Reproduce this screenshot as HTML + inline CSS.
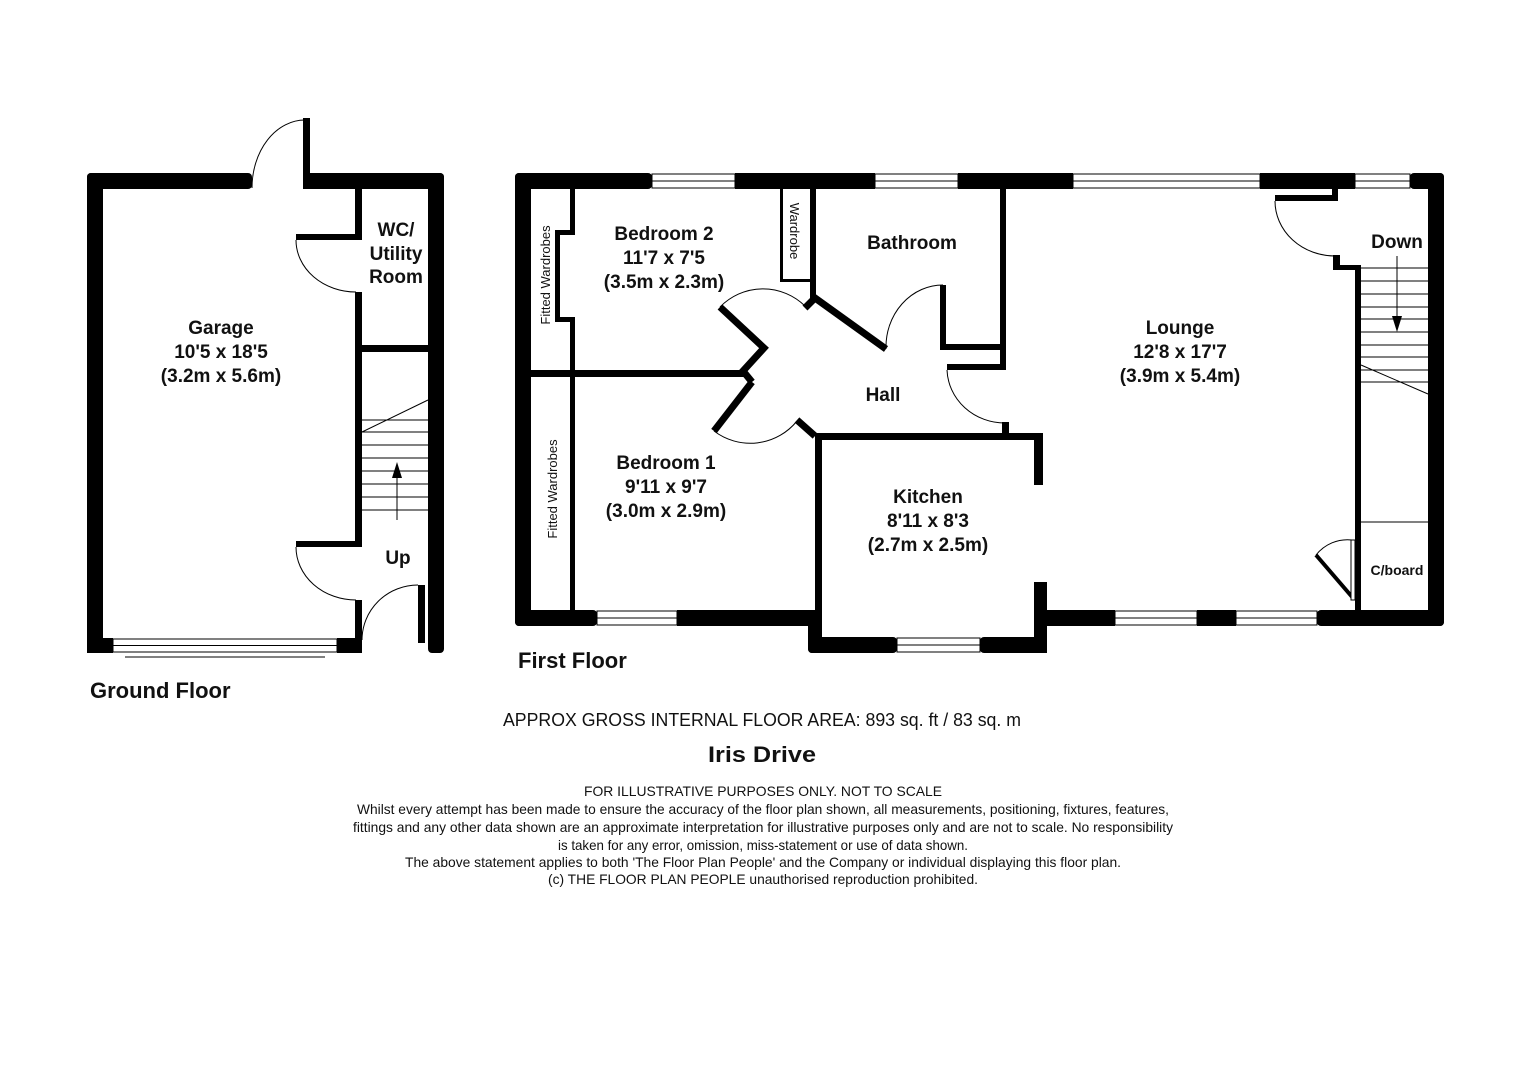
<!DOCTYPE html>
<html><head><meta charset="utf-8"><style>
html,body{margin:0;padding:0;background:#fff}
svg{display:block}
text{font-family:"Liberation Sans",sans-serif;fill:#111}
</style></head><body>
<svg width="1526" height="1080" viewBox="0 0 1526 1080" xmlns="http://www.w3.org/2000/svg">
<rect width="1526" height="1080" fill="#fff"/>
<g fill="#000">
<!-- Ground floor -->
<rect x="87" y="173" width="165" height="16" rx="4"/>
<rect x="303" y="173" width="141" height="16" rx="4"/>
<rect x="303" y="118" width="7" height="71"/>
<rect x="87" y="173" width="16" height="480" rx="4"/>
<rect x="428" y="173" width="16" height="480" rx="4"/>
<rect x="87" y="638" width="26" height="15"/>
<rect x="337" y="638" width="25" height="15"/>
<rect x="418" y="585" width="7" height="58"/>
<rect x="355" y="188" width="7" height="52"/>
<rect x="296" y="234" width="66" height="6"/>
<rect x="355" y="292" width="7" height="255"/>
<rect x="296" y="541" width="66" height="6"/>
<rect x="355" y="600" width="7" height="53"/>
<rect x="362" y="345" width="66" height="7"/>
</g>
<g fill="none" stroke="#000" stroke-width="1">
<path d="M252,188 A53,68 0 0 1 305,120"/>
<path d="M296,240 A60,52 0 0 0 356,292"/>
<path d="M296,547 A60,53 0 0 0 356,600"/>
<path d="M362,640 A56,55 0 0 1 418,585"/>
<rect x="113" y="639" width="224" height="13"/>
<line x1="113" y1="645.5" x2="337" y2="645.5"/>
<line x1="125" y1="657" x2="325" y2="657"/>
<path d="M362,432 L428,400"/>
<path d="M362,420H428M362,432H428M362,445H428M362,458H428M362,471H428M362,484H428M362,497H428M362,510H428"/>
<line x1="397" y1="520" x2="397" y2="475"/>
</g>
<polygon points="397,462 392,478 402,478" fill="#000"/>

<!-- First floor walls -->
<g fill="#000">
<rect x="515" y="173" width="137" height="16" rx="4"/>
<rect x="735" y="173" width="140" height="16"/>
<rect x="958" y="173" width="115" height="16"/>
<rect x="1260" y="173" width="95" height="16"/>
<rect x="1410" y="173" width="34" height="16" rx="4"/>
<rect x="515" y="173" width="16" height="453" rx="4"/>
<rect x="1428" y="173" width="16" height="453" rx="4"/>
<rect x="515" y="610" width="82" height="16" rx="4"/>
<rect x="677" y="610" width="145" height="16"/>
<rect x="808" y="610" width="14" height="43" rx="4"/>
<rect x="808" y="637" width="89" height="16" rx="4"/>
<rect x="980" y="637" width="67" height="16" rx="4"/>
<rect x="1034" y="582" width="13" height="71"/>
<rect x="1034" y="610" width="81" height="16"/>
<rect x="1197" y="610" width="39" height="16"/>
<rect x="1317" y="610" width="127" height="16" rx="4"/>
<!-- wardrobes -->
<rect x="570" y="189" width="5" height="44"/>
<rect x="555" y="230" width="20" height="5"/>
<rect x="555" y="230" width="5" height="92"/>
<rect x="555" y="317" width="20" height="5"/>
<rect x="570" y="317" width="5" height="293"/>
<rect x="531" y="370" width="214" height="7"/>
<rect x="780" y="189" width="3" height="93"/>
<rect x="780" y="279" width="33" height="3"/>
<rect x="810" y="189" width="6" height="110"/>
<!-- bath -->
<rect x="940" y="285" width="6" height="65"/>
<rect x="940" y="344" width="66" height="6"/>
<rect x="1000" y="189" width="6" height="175"/>
<rect x="947" y="364" width="59" height="6"/>
<rect x="1002" y="422" width="7" height="15"/>
<!-- kitchen -->
<rect x="815" y="433" width="228" height="7"/>
<rect x="815" y="433" width="7" height="200"/>
<rect x="1034" y="433" width="9" height="52"/>
<!-- lounge/stairs -->
<rect x="1275" y="195" width="62" height="6"/>
<rect x="1332" y="189" width="6" height="12"/>
<rect x="1333" y="255" width="7" height="15"/>
<rect x="1333" y="265" width="28" height="5"/>
<rect x="1355" y="265" width="6" height="345"/>
</g>
<g fill="none" stroke="#000" stroke-width="7" stroke-linecap="butt">
<path d="M720,307 L764,348 L743,371 L752,382"/>
<path d="M752,382 L714,431"/>
<path d="M797,420 L815,436"/>
<path d="M805,308 L815,298 L886,349"/>
</g>
<g fill="none" stroke="#000" stroke-width="1">
<path d="M720,307 A60,60 0 0 1 805,306"/>
<path d="M714,431 A60,60 0 0 0 797,421"/>
<path d="M886,349 A57,62 0 0 1 943,285"/>
<path d="M947,370 A58,55 0 0 0 1005,423"/>
<path d="M1275,201 A60,55 0 0 0 1335,256"/>
<path d="M1316,555 A40,40 0 0 1 1352,540"/>
</g>
<line x1="1316" y1="555" x2="1353" y2="598" stroke="#000" stroke-width="4"/>
<rect x="1351" y="540" width="4" height="60" fill="#fff" stroke="#000" stroke-width="1"/>
<!-- windows -->
<g fill="#fff" stroke="#000" stroke-width="1">
<rect x="652" y="174" width="83" height="14"/>
<rect x="875" y="174" width="83" height="14"/>
<rect x="1073" y="174" width="187" height="14"/>
<rect x="1355" y="174" width="55" height="14"/>
<rect x="597" y="611" width="80" height="14"/>
<rect x="897" y="638" width="83" height="14"/>
<rect x="1115" y="611" width="82" height="14"/>
<rect x="1236" y="611" width="81" height="14"/>
</g>
<g stroke="#000" stroke-width="1">
<line x1="652" y1="181" x2="735" y2="181"/>
<line x1="875" y1="181" x2="958" y2="181"/>
<line x1="1073" y1="181" x2="1260" y2="181"/>
<line x1="1355" y1="181" x2="1410" y2="181"/>
<line x1="597" y1="618" x2="677" y2="618"/>
<line x1="897" y1="645" x2="980" y2="645"/>
<line x1="1115" y1="618" x2="1197" y2="618"/>
<line x1="1236" y1="618" x2="1317" y2="618"/>
<path d="M1361,268H1428M1361,281H1428M1361,294H1428M1361,307H1428M1361,319H1428M1361,332H1428M1361,345H1428M1361,357H1428M1361,370H1428M1361,382H1428"/>
<line x1="1361" y1="365" x2="1428" y2="394"/>
<line x1="1361" y1="522" x2="1428" y2="522"/>
<line x1="1397" y1="256" x2="1397" y2="318"/>
</g>
<polygon points="1397,332 1392,316 1402,316" fill="#000"/>

<!-- labels -->
<g font-size="19" font-weight="bold" text-anchor="middle">
<text x="221" y="334">Garage</text>
<text x="221" y="358">10'5 x 18'5</text>
<text x="221" y="382">(3.2m x 5.6m)</text>
<text x="396" y="236">WC/</text>
<text x="396" y="260">Utility</text>
<text x="396" y="283">Room</text>
<text x="398" y="564">Up</text>
<text x="664" y="240">Bedroom 2</text>
<text x="664" y="264">11'7 x 7'5</text>
<text x="664" y="288">(3.5m x 2.3m)</text>
<text x="912" y="249">Bathroom</text>
<text x="883" y="401">Hall</text>
<text x="666" y="469">Bedroom 1</text>
<text x="666" y="493">9'11 x 9'7</text>
<text x="666" y="517">(3.0m x 2.9m)</text>
<text x="928" y="503">Kitchen</text>
<text x="928" y="527">8'11 x 8'3</text>
<text x="928" y="551">(2.7m x 2.5m)</text>
<text x="1180" y="334">Lounge</text>
<text x="1180" y="358">12'8 x 17'7</text>
<text x="1180" y="382">(3.9m x 5.4m)</text>
<text x="1397" y="248">Down</text>
</g>
<text x="1397" y="575" font-size="14" font-weight="bold" text-anchor="middle">C/board</text>
<text transform="translate(550,275) rotate(-90)" font-size="13" text-anchor="middle">Fitted Wardrobes</text>
<text transform="translate(557,489) rotate(-90)" font-size="13" text-anchor="middle">Fitted Wardrobes</text>
<text transform="translate(790,231) rotate(90)" font-size="13" text-anchor="middle">Wardrobe</text>
<text x="90" y="698" font-size="22" font-weight="bold">Ground Floor</text>
<text x="518" y="668" font-size="22" font-weight="bold">First Floor</text>
<text x="762" y="726" font-size="18" text-anchor="middle" textLength="518" lengthAdjust="spacingAndGlyphs">APPROX GROSS INTERNAL FLOOR AREA:  893 sq. ft / 83 sq. m</text>
<text x="762" y="762" font-size="22" font-weight="bold" text-anchor="middle" textLength="108" lengthAdjust="spacingAndGlyphs">Iris Drive</text>
<g font-size="14" text-anchor="middle">
<text x="763" y="796" textLength="358" lengthAdjust="spacingAndGlyphs">FOR ILLUSTRATIVE PURPOSES ONLY.  NOT TO SCALE</text>
<text x="763" y="814" textLength="812" lengthAdjust="spacingAndGlyphs">Whilst every attempt has been made to ensure the accuracy of the floor plan shown, all measurements, positioning, fixtures, features,</text>
<text x="763" y="832" textLength="820" lengthAdjust="spacingAndGlyphs">fittings and any other data shown are an approximate interpretation for illustrative purposes only and are not to scale.  No responsibility</text>
<text x="763" y="850" textLength="410" lengthAdjust="spacingAndGlyphs">is taken for any error, omission, miss-statement or use of data shown.</text>
<text x="763" y="867" textLength="716" lengthAdjust="spacingAndGlyphs">The above statement applies to both 'The Floor Plan People' and the Company or individual displaying this floor plan.</text>
<text x="763" y="884" textLength="430" lengthAdjust="spacingAndGlyphs">(c) THE FLOOR PLAN PEOPLE unauthorised reproduction prohibited.</text>
</g>
</svg>
</body></html>
